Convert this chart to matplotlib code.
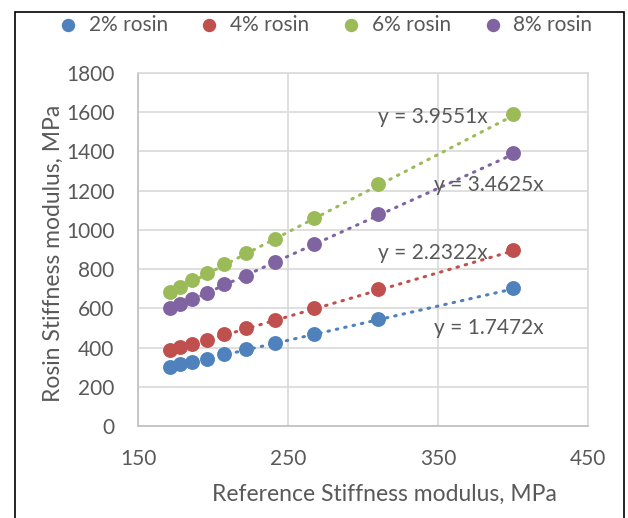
import matplotlib.pyplot as plt
import numpy as np
from matplotlib.patches import Rectangle

plt.rcParams['font.family'] = ['Lato', 'DejaVu Sans']

ref_modulus = [171, 178, 186, 196, 207, 222, 241, 267, 310, 400]
rosin_2 = [302, 316, 328, 342, 366, 391, 422, 469, 544, 702]
rosin_4 = [388, 401, 418, 439, 468, 498, 541, 600, 697, 896]
rosin_6 = [685, 707, 745, 779, 825, 881, 954, 1063, 1233, 1590]
rosin_8 = [600, 622, 649, 680, 723, 765, 838, 929, 1080, 1391]

labels = ['2% rosin', '4% rosin', '6% rosin', '8% rosin']
slopes = [1.7472, 2.2322, 3.9551, 3.4625]
eq_pos = [(347, 500), (310, 883), (310, 1575), (347, 1230)]
colors = ['#4F81BD', '#C0504D', '#9BBB59', '#8064A2']
txt = '#595959'

fig = plt.figure(figsize=(6.28, 5.18), dpi=100)
ax = fig.add_axes([138 / 628, 92 / 518, 450 / 628, 353 / 518])

x = np.array(ref_modulus)
for ys, lab, k, c, (tx, ty) in zip([rosin_2, rosin_4, rosin_6, rosin_8], labels, slopes, colors, eq_pos):
    ax.scatter(x, ys, s=115, color=c, label=lab, zorder=3, linewidths=0)
    xl = np.array([x.min(), x.max()])
    ax.plot(xl, k * xl, color=c, lw=2.2, linestyle=(0, (0.5, 2.3)), dash_capstyle='round', zorder=2)
    ax.text(tx, ty, 'y = %.4fx' % k, color=txt, fontsize=15, ha='left', va='center', zorder=4)

ax.set_xlim(150, 450)
ax.set_ylim(0, 1800)
ax.set_xticks([150, 250, 350, 450])
ax.set_yticks(range(0, 1801, 200))
ax.grid(True, color='#d9d9d9', lw=1.2)
ax.set_axisbelow(True)
for s in ax.spines.values():
    s.set_color('#d9d9d9')
    s.set_linewidth(1.2)
ax.spines['bottom'].set_color('#bfbfbf')
ax.spines['left'].set_color('#bfbfbf')
ax.tick_params(axis='x', length=0, labelsize=15, labelcolor=txt, pad=16.5)
ax.tick_params(axis='y', length=0, labelsize=15, labelcolor=txt, pad=17)
ax.set_xlabel('Reference Stiffness modulus, MPa', fontsize=16.5, color=txt)
ax.set_ylabel('Rosin Stiffness modulus, MPa', fontsize=16.5, color=txt)
ax.xaxis.set_label_coords(0.547, -58 / 353, transform=ax.transAxes)
ax.yaxis.set_label_coords(-74 / 450, 0.49, transform=ax.transAxes)

fig.legend(loc='center', bbox_to_anchor=(0.509, 0.952), ncol=4, frameon=False,
           fontsize=15, labelcolor=txt, handletextpad=0.0, columnspacing=1.0,
           markerscale=0.9)

fig.add_artist(Rectangle((15 / 628, -0.1), 609 / 628, 1.1 - 12 / 518, transform=fig.transFigure,
                         fill=False, edgecolor='black', lw=1.2))

plt.savefig('out.png', dpi=100)
